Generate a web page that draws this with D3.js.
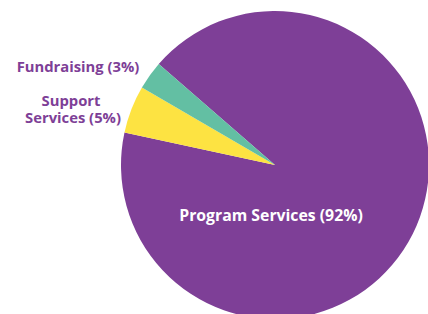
<!DOCTYPE html>
<html><head><meta charset="utf-8">
<script src="https://cdn.jsdelivr.net/npm/d3@7"></script>
<style>body{margin:0;background:#fff;overflow:hidden}svg{display:block}text{font-family:"Open Sans",sans-serif;font-weight:700}</style>
</head><body>
<svg id="c" width="428" height="314"></svg>
<script>
const categories = ["Program Services", "Support Services", "Fundraising"];
const values = [92, 5, 3];
const colors = ["#7E3F97", "#FDE342", "#63BFA3"];

const svg = d3.select("#c");
const cx = 275, cy = 165, r = 154;
const g = svg.append("g").attr("transform", `translate(${cx},${cy})`);
const pie = d3.pie().sort(null).startAngle(-49 * Math.PI / 180).endAngle(311 * Math.PI / 180);
const arcs = pie(values);
const arc = d3.arc().innerRadius(0).outerRadius(r);
g.selectAll("path").data(arcs).enter().append("path")
  .attr("d", arc).attr("fill", (d, i) => colors[i]);

// Program label inside
g.append("text").attr("x", -4).attr("y", 56).attr("text-anchor", "middle")
  .attr("fill", "#fff").attr("font-size", 15.8).text(`${categories[0]} (${values[0]}%)`);

// Outside labels
svg.append("text").attr("x", 78).attr("y", 72).attr("text-anchor", "middle")
  .attr("fill", "#7E3F97").attr("font-size", 14.8).text(`${categories[2]} (${values[2]}%)`);
const t = svg.append("text").attr("text-anchor", "middle").attr("fill", "#7E3F97").attr("font-size", 14.8);
t.append("tspan").attr("x", 71).attr("y", 106).text(categories[1].split(" ")[0]);
t.append("tspan").attr("x", 73).attr("y", 123).text(`${categories[1].split(" ")[1]} (${values[1]}%)`);
</script>
</body></html>
